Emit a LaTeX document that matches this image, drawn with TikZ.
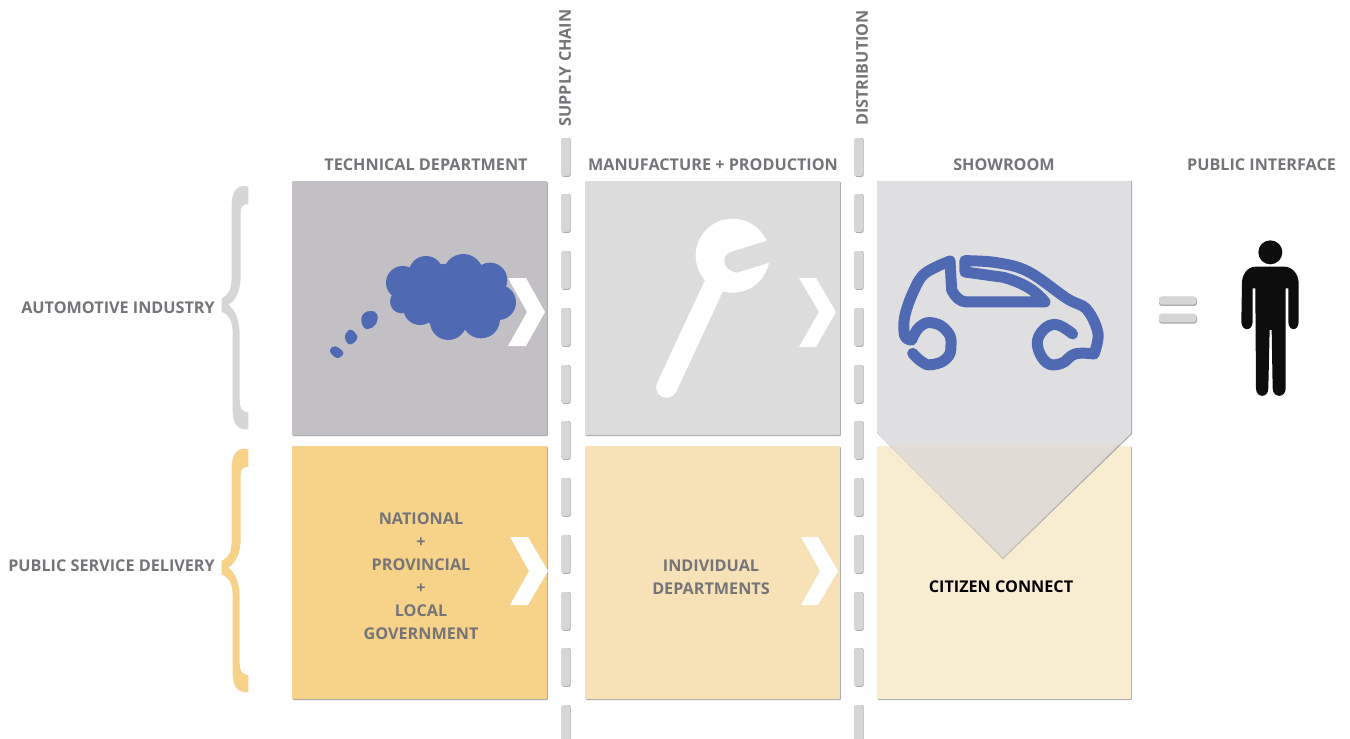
\documentclass[tikz,border=0pt]{standalone}
\usepackage{fontspec}
\setmainfont{Open Sans}
\usetikzlibrary{shapes.geometric}
\definecolor{labelgray}{HTML}{757579}
\definecolor{techgray}{HTML}{C2C0C5}
\definecolor{manugray}{HTML}{DCDCDC}
\definecolor{showgray}{HTML}{DFDFE1}
\definecolor{tipgray}{HTML}{E0DCD5}
\definecolor{yellowA}{HTML}{F6D388}
\definecolor{yellowB}{HTML}{F7E2B7}
\definecolor{yellowC}{HTML}{F8ECD1}
\definecolor{iconblue}{HTML}{5069B3}
\definecolor{barfill}{HTML}{D6D6D6}
\definecolor{edgegray}{HTML}{A8A8A8}
\tikzset{
 lab/.style={text=labelgray,font=\bfseries\fontsize{16.2}{23}\selectfont,align=center,inner sep=0pt},
 box/.style={draw=none,rounded corners=1pt},
 chev/.style={fill=white,draw=none},
 bar/.style={fill=barfill,draw=none,rounded corners=2pt},
 barshade/.style={fill=edgegray,draw=none,rounded corners=2pt},
 carline/.style={draw=iconblue,line width=11pt,line cap=round,line join=round},
 zoomed/.style={x=0.3333pt,y=-0.3333pt},
}
\newcommand{\panel}[5]{% x0 y0 x1 y1 colour
 \fill[box,edgegray] (#1+0.6,#2+0.6) rectangle (#3+0.8,#4+1);
 \fill[box,#5] (#1,#2) rectangle (#3,#4);}
\newcommand{\dashbar}[3]{% x y0 y1
 \fill[barshade] (#1+0.8,#2) rectangle (#1+9.6,#3+0.8);
 \fill[bar] (#1,#2) rectangle (#1+8.8,#3);}
\newcommand{\braceshape}[1]{%
 \fill[#1] (115,20) -- (100,18) .. controls (75,20) and (65,45) .. (65,75) -- (65,290) .. controls (65,330) and (55,345) .. (35,355) -- (35,395) .. controls (58,405) and (68,425) .. (68,460) -- (68,690) .. controls (68,725) and (80,748) .. (105,748) -- (115,748) -- (115,697) -- (105,695) .. controls (93,690) and (89,680) .. (89,660) -- (89,470) .. controls (89,415) and (75,390) .. (55,375) .. controls (78,358) and (92,335) .. (92,285) -- (92,95) .. controls (92,80) and (100,72) .. (115,72) -- cycle;}
\begin{document}
\begin{tikzpicture}[x=1pt,y=-1pt]
\useasboundingbox (0,0) rectangle (1350,739);
\fill[white] (0,0) rectangle (1350,739);
% panels
\panel{292}{181}{547}{435}{techgray}
\panel{585}{181}{840}{435}{manugray}
\panel{292}{446}{547}{699}{yellowA}
\panel{585}{446}{840}{699}{yellowB}
\panel{877}{446}{1131}{699}{yellowC}
% showroom with tip
\fill[edgegray] (877,181) -- (1132,181) -- (1132,434) -- (1003,559) -- (877,433) -- cycle;
\fill[tipgray] (877,433) -- (1131,433) -- (1003,558) -- cycle;
\fill[showgray,rounded corners=1pt] (877,181) -- (1131,181) -- (1131,433) -- (1119,445) -- (889,445) -- (877,433) -- cycle;
% dashed separators
\foreach \ya/\yb in {138/176,194/232,251/289,308/346,365/403,421/459,478/516,535/573,592/630,648/686,705/745}{
 \dashbar{561}{\ya}{\yb}
 \dashbar{854}{\ya}{\yb}
}
% chevrons
\fill[chev] (508,278) -- (526,278) -- (545,312) -- (526,346) -- (508,346) -- (527,312) -- cycle;
\fill[chev] (799,278) -- (816,278) -- (836,312) -- (816,347) -- (799,347) -- (819,312) -- cycle;
\fill[chev] (510,537) -- (528,537) -- (548,571) -- (528,605) -- (510,605) -- (529,571) -- cycle;
\fill[chev] (801,537) -- (818,537) -- (838,571) -- (818,605) -- (801,605) -- (820,571) -- cycle;
% cloud
\begin{scope}[shift={(280,170)},zoomed]
\foreach \cx/\cy/\r in {368/338/50,438/310/52,550/312/60,630/330/52,655/397/53,603/448/57,505/455/55,420/415/50,365/395/35}{
 \fill[iconblue] (\cx,\cy) circle[radius=\r];
}
\fill[iconblue] (335,375) -- (388,298) -- (488,282) -- (608,295) -- (670,355) -- (658,440) -- (550,482) -- (450,460) -- (378,430) -- cycle;
\fill[iconblue] plot[smooth cycle,tension=0.7] coordinates {(244,448)(252,430)(272,423)(291,432)(288,462)(265,477)(250,470)};
\fill[iconblue] plot[smooth cycle,tension=0.7] coordinates {(195,498)(212,479)(232,500)(222,518)(205,522)};
\fill[iconblue] plot[smooth cycle,tension=0.7] coordinates {(150,544)(165,529)(190,548)(172,564)};
\end{scope}
% wrench
\begin{scope}[shift={(580,190)},zoomed]
\fill[white] (458,197) circle[radius=111];
\draw[white,line width=21pt,line cap=round] (410,270) -- (260,592);
\fill[manugray] (562,152) -- (450,187) .. controls (425,197) and (425,240) .. (470,248) -- (568,218) -- (600,208) -- (600,140) -- cycle;
\end{scope}
% car
\begin{scope}[shift={(870,170)},zoomed]
\draw[carline] plot[smooth,tension=0.6] coordinates {(122,510)(104,497)(104,440)(130,365)(165,310)(240,273)};
\draw[carline] (240,273) -- (245,360) .. controls (255,380) and (270,396) .. (290,396) -- (525,396) .. controls (500,365) and (465,340) .. (400,322) -- (285,306) -- (285,273);
\draw[carline] plot[smooth,tension=0.6] coordinates {(285,272)(380,278)(475,305)(590,385)(650,418)(684,490)(672,552)};
\draw[carline] plot[smooth,tension=0.7] coordinates {(672,552)(615,552)(575,580)(530,578)(502,525)(520,480)(560,464)(608,492)};
\draw[carline] plot[smooth,tension=0.8] coordinates {(125,510)(150,470)(190,459)(232,485)(243,525)(230,565)(185,584)(155,575)(128,550)};
\end{scope}
% person
\begin{scope}[shift={(1140,220)},zoomed]
\fill[black!95] (391,97) circle[radius=36];
\fill[black!95] (345,140) -- (435,140) .. controls (460,142) and (476,165) .. (476,190) -- (476,305) .. controls (476,335) and (445,335) .. (445,305) -- (445,205) -- (437,205) -- (437,505) .. controls (437,535) and (398,535) .. (398,505) -- (395,330) -- (389,330) -- (385,505) .. controls (385,535) and (348,535) .. (348,505) -- (346,205) -- (338,205) -- (338,305) .. controls (338,335) and (304,335) .. (304,305) -- (306,190) .. controls (306,165) and (320,142) .. (345,140) -- cycle;
\fill[edgegray,rounded corners=3pt] (57,231) rectangle (171,258);
\fill[barfill,rounded corners=3pt] (57,229) rectangle (169,254);
\fill[edgegray,rounded corners=3pt] (57,283) rectangle (171,311);
\fill[barfill,rounded corners=3pt] (57,281) rectangle (169,307);
\end{scope}
% braces
\begin{scope}[shift={(210,180)},zoomed]
\braceshape{barfill}
\end{scope}
\begin{scope}[shift={(210,442.7)},zoomed]
\braceshape{yellowA}
\end{scope}
% labels
\node[lab] (tTech) at (426,165) {TECHNICAL DEPARTMENT};
\node[lab] (tManu) at (713,165) {MANUFACTURE + PRODUCTION};
\node[lab] (tShow) at (1004,165) {SHOWROOM};
\node[lab] (tPub) at (1261.5,165) {PUBLIC INTERFACE};
\node[lab,anchor=east] (tAuto) at (215,308) {AUTOMOTIVE INDUSTRY};
\node[lab,anchor=east] (tServ) at (215,566) {PUBLIC SERVICE DELIVERY};
\node[lab,rotate=90] (tSupply) at (565,68) {SUPPLY CHAIN};
\node[lab,rotate=90] (tDist) at (862,68) {DISTRIBUTION};
\node[lab] (tGov) at (421,576.5) {NATIONAL\\+\\PROVINCIAL\\+\\LOCAL\\GOVERNMENT};
\node[lab] (tInd) at (711,577) {INDIVIDUAL\\DEPARTMENTS};
\node[lab,text=black] (tCit) at (1001,587) {CITIZEN CONNECT};
\end{tikzpicture}
\end{document}
